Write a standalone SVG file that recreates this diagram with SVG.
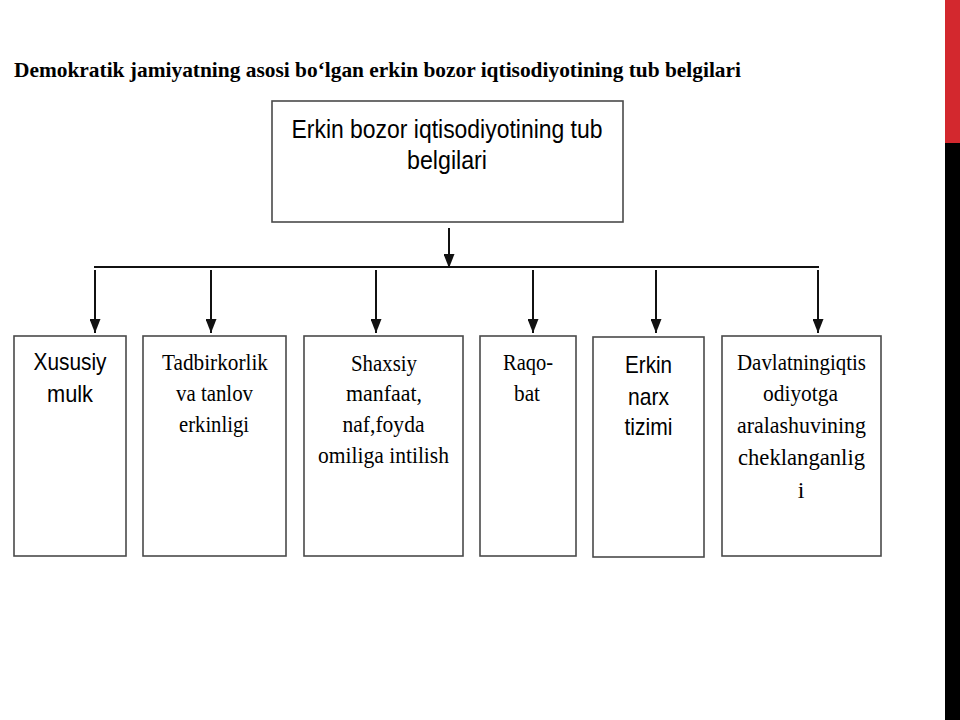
<svg xmlns="http://www.w3.org/2000/svg" width="960" height="720" viewBox="0 0 960 720">
<style>
.box{fill:#ffffff;stroke:#4a4a4a;stroke-width:1.6}
.con{stroke:#111;stroke-width:2;fill:none}
.serif{font-family:"Liberation Serif","Times New Roman",serif;font-size:24px;fill:#000;text-anchor:middle}
.sans{font-family:"Liberation Sans",Arial,sans-serif;font-size:24px;fill:#000;text-anchor:middle}
.title{font-family:"Liberation Serif","Times New Roman",serif;font-size:22px;font-weight:bold;fill:#000}
</style>
<defs>
<marker id="ah" viewBox="0 0 14 11" refX="14" refY="5.5" markerWidth="14" markerHeight="11" markerUnits="userSpaceOnUse" orient="auto">
<path d="M0,0 L14,5.5 L0,11 z" fill="#111"/>
</marker>
</defs>
<rect x="0" y="0" width="960" height="720" fill="#ffffff"/>
<g id="sidebar">
<rect x="945" y="0" width="15" height="143" fill="#d3282e"/>
<rect x="945" y="143" width="15" height="577" fill="#000000"/>
</g>
<text class="title" x="14" y="77" textLength="727" lengthAdjust="spacingAndGlyphs">Demokratik jamiyatning asosi bo‘lgan erkin bozor iqtisodiyotining tub belgilari</text>
<g id="connectors">
<line class="con" x1="449" y1="228" x2="449" y2="268" marker-end="url(#ah)"/>
<line class="con" x1="94" y1="267" x2="819" y2="267"/>
<line class="con" x1="95" y1="270" x2="95" y2="333" marker-end="url(#ah)"/>
<line class="con" x1="211" y1="270" x2="211" y2="333" marker-end="url(#ah)"/>
<line class="con" x1="376" y1="270" x2="376" y2="333" marker-end="url(#ah)"/>
<line class="con" x1="533" y1="270" x2="533" y2="333" marker-end="url(#ah)"/>
<line class="con" x1="656" y1="270" x2="656" y2="333" marker-end="url(#ah)"/>
<line class="con" x1="818" y1="270" x2="818" y2="333" marker-end="url(#ah)"/>
</g>
<g id="node-top">
<rect class="box" x="272" y="101" width="351" height="121"/>
<text class="sans" style="font-size:26px" x="447" y="138" textLength="311" lengthAdjust="spacingAndGlyphs">Erkin bozor iqtisodiyotining tub</text>
<text class="sans" style="font-size:26px" x="447" y="169" textLength="80" lengthAdjust="spacingAndGlyphs">belgilari</text>
</g>
<g id="node-1">
<rect class="box" x="14" y="336" width="112" height="220"/>
<text class="sans" x="70" y="370" textLength="73" lengthAdjust="spacingAndGlyphs">Xususiy</text>
<text class="sans" x="70" y="402" textLength="46" lengthAdjust="spacingAndGlyphs">mulk</text>
</g>
<g id="node-2">
<rect class="box" x="143" y="336" width="143" height="220"/>
<text class="serif" x="215" y="370" textLength="106" lengthAdjust="spacingAndGlyphs">Tadbirkorlik</text>
<text class="serif" x="214.5" y="401" textLength="77" lengthAdjust="spacingAndGlyphs">va tanlov</text>
<text class="serif" x="214" y="432" textLength="70" lengthAdjust="spacingAndGlyphs">erkinligi</text>
</g>
<g id="node-3">
<rect class="box" x="304" y="336" width="159" height="220"/>
<text class="serif" x="384" y="371" textLength="66" lengthAdjust="spacingAndGlyphs">Shaxsiy</text>
<text class="serif" x="384" y="401" textLength="76" lengthAdjust="spacingAndGlyphs">manfaat,</text>
<text class="serif" x="383.5" y="432" textLength="82" lengthAdjust="spacingAndGlyphs">naf,foyda</text>
<text class="serif" x="383.5" y="463" textLength="131" lengthAdjust="spacingAndGlyphs">omiliga intilish</text>
</g>
<g id="node-4">
<rect class="box" x="480" y="336" width="96" height="220"/>
<text class="serif" x="528" y="370" textLength="50" lengthAdjust="spacingAndGlyphs">Raqo-</text>
<text class="serif" x="527" y="401" textLength="26" lengthAdjust="spacingAndGlyphs">bat</text>
</g>
<g id="node-5">
<rect class="box" x="593" y="337" width="111" height="220"/>
<text class="sans" x="648.5" y="373" textLength="47" lengthAdjust="spacingAndGlyphs">Erkin</text>
<text class="sans" x="648.5" y="405" textLength="41" lengthAdjust="spacingAndGlyphs">narx</text>
<text class="sans" x="648.5" y="435" textLength="48" lengthAdjust="spacingAndGlyphs">tizimi</text>
</g>
<g id="node-6">
<rect class="box" x="722" y="336" width="159" height="220"/>
<text class="serif" x="801.5" y="370" textLength="129" lengthAdjust="spacingAndGlyphs">Davlatningiqtis</text>
<text class="serif" x="800.5" y="401" textLength="75" lengthAdjust="spacingAndGlyphs">odiyotga</text>
<text class="serif" x="801.5" y="433" textLength="129" lengthAdjust="spacingAndGlyphs">aralashuvining</text>
<text class="serif" x="801.5" y="465" textLength="127" lengthAdjust="spacingAndGlyphs">cheklanganlig</text>
<text class="serif" x="801" y="498">i</text>
</g>
</svg>
